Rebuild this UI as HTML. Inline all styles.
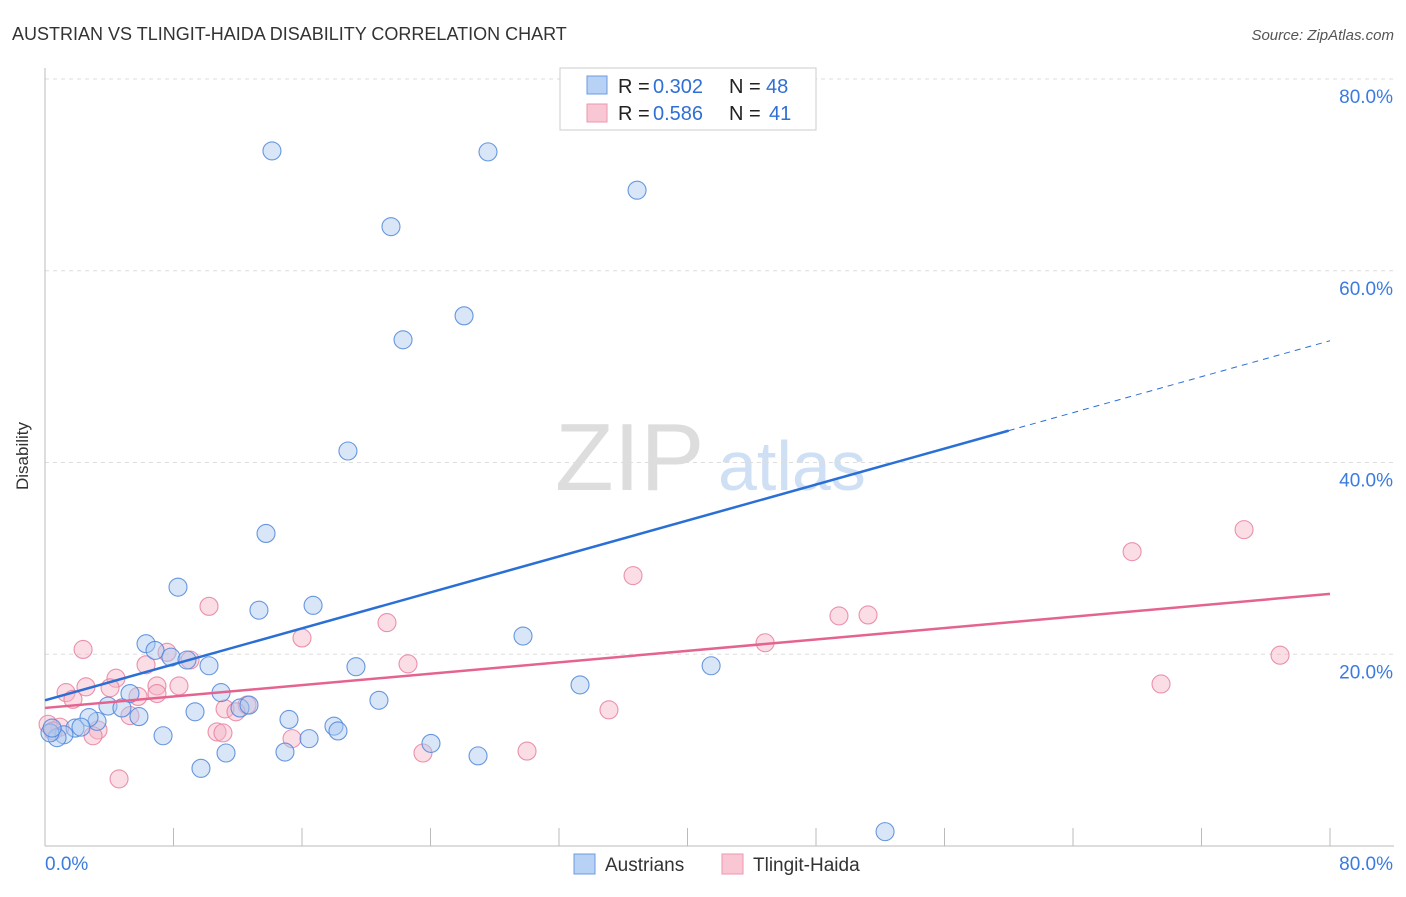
<!DOCTYPE html>
<html><head><meta charset="utf-8"><style>
body{margin:0;background:#fff;font-family:"Liberation Sans",sans-serif}
svg text{font-family:"Liberation Sans",sans-serif}
</style></head><body>
<svg id="c" width="1406" height="892">
<text x="12" y="40" font-size="18" fill="#333">AUSTRIAN VS TLINGIT-HAIDA DISABILITY CORRELATION CHART</text>
<text x="1394" y="40" font-size="15" fill="#555" font-style="italic" text-anchor="end">Source: ZipAtlas.com</text>
<text x="28" y="456" font-size="17" fill="#333" text-anchor="middle" transform="rotate(-90 28 456)">Disability</text>
<g><text x="555" y="490" font-size="96" fill="#ddd" font-family="Liberation Serif,serif">ZIP</text><text x="718" y="490" font-size="70" fill="#cfe0f5">atlas</text></g>
<g id="grid"></g><g id="pts"></g><g id="lines"></g>
<g>
<rect x="560" y="68" width="256" height="62" fill="#fff" stroke="#ccc"/>
<rect x="587" y="76" width="20" height="18" fill="#b8d2f5" stroke="#6b9be0"/>
<rect x="587" y="104" width="20" height="18" fill="#f9c6d4" stroke="#eb97b0"/>
<text x="618" y="93" font-size="20" fill="#222">R =</text><text x="653" y="93" font-size="20" fill="#2f6fd6">0.302</text>
<text x="729" y="93" font-size="20" fill="#222">N =</text><text x="766" y="93" font-size="20" fill="#2f6fd6">48</text>
<text x="618" y="120" font-size="20" fill="#222">R =</text><text x="653" y="120" font-size="20" fill="#2f6fd6">0.586</text>
<text x="729" y="120" font-size="20" fill="#222">N =</text><text x="769" y="120" font-size="20" fill="#2f6fd6">41</text>
</g>
<g>
<rect x="574" y="854" width="21" height="20" fill="#b8d2f5" stroke="#6b9be0"/>
<text x="605" y="871" font-size="19" fill="#333">Austrians</text>
<rect x="722" y="854" width="21" height="20" fill="#f9c6d4" stroke="#eb97b0"/>
<text x="753" y="871" font-size="19" fill="#333">Tlingit-Haida</text>
</g>
</svg>
<script>
const blueX=[14.13,27.58,36.86,21.54,26.09,22.29,18.86,13.76,8.28,13.32,16.69,6.29,6.85,7.84,8.84,10.21,29.76,19.36,41.47,33.31,10.96,20.79,5.29,3.92,4.79,5.85,3.24,2.74,1.87,2.24,1.18,0.75,0.31,9.34,12.14,12.70,15.19,17.99,18.24,7.35,16.44,24.03,11.27,14.94,26.96,9.71,52.30,0.44];
const blueY=[72.5,72.4,68.4,64.6,55.3,52.8,41.2,32.6,27.0,24.6,25.1,21.1,20.4,19.7,19.4,18.8,21.9,18.7,18.8,16.8,16.0,15.2,15.9,14.6,14.4,13.5,13.0,13.4,12.3,12.4,11.6,11.3,11.8,14.0,14.4,14.7,13.2,12.5,12.0,11.5,11.2,10.7,9.7,9.8,9.4,8.1,1.5,12.3];
const pinkX=[2.37,10.21,36.61,67.68,74.65,49.43,51.24,44.83,76.89,69.48,16.00,21.29,22.60,6.29,9.03,7.60,8.34,4.42,2.55,1.31,1.74,4.05,6.97,6.97,5.29,11.21,12.58,35.11,10.71,11.08,3.30,2.99,15.38,30.01,23.53,4.61,0.93,0.19,0.50,5.79,11.89];
const pinkY=[20.5,25.0,28.2,30.7,33.0,24.0,24.1,21.2,19.9,16.9,21.7,23.3,19.0,18.9,19.4,20.2,16.7,17.5,16.6,16.0,15.3,16.5,16.7,15.9,13.6,14.3,14.7,14.2,11.9,11.8,12.1,11.5,11.2,9.9,9.7,7.0,12.4,12.7,12.0,15.6,14.0];
const blueTrend=[15.2,52.7], pinkTrend=[14.4,26.3];
const yTicks=[20,40,60,80], xTickVals=[0,8,16,24,32,40,48,56,64,72,80];
const NS="http://www.w3.org/2000/svg";
const sx=v=>45+v/80*1285, sy=v=>846-v*9.5875;
function mk(t,a,p){const e=document.createElementNS(NS,t);for(const k in a)e.setAttribute(k,a[k]);p.appendChild(e);return e;}
const g=document.getElementById('grid');
yTicks.forEach(t=>{
 const l=mk('line',{x1:45,x2:1394,y1:sy(t),y2:sy(t),stroke:'#ddd','stroke-dasharray':'4,4'},g);
 
 
 const tx=mk('text',{x:1393,y:sy(t)+24,'font-size':19,fill:'#3b7be0','text-anchor':'end'},g);
 tx.textContent=t.toFixed(1)+'%';
 
 
});
const ax=mk('line',{x1:45,x2:45,y1:68,y2:846,stroke:'#bbb'},g);


const bx=mk('line',{x1:45,x2:1394,y1:846,y2:846,stroke:'#bbb'},g);


xTickVals.forEach(t=>{
 const l=mk('line',{x1:sx(t),x2:sx(t),y1:828,y2:846,stroke:'#bbb'},g);
 
 
});
[[0,45,'start'],[80,1393,'end']].forEach(([v,x,a])=>{
 const t=mk('text',{x:x,y:870,'font-size':19,fill:'#3b7be0','text-anchor':a},g);
 t.textContent=v.toFixed(1)+'%';
 
 
});
const p=document.getElementById('pts');
function pts(X,Y,fill,stroke,name){X.forEach((x,i)=>{
 const c=mk('circle',{cx:sx(x),cy:sy(Y[i]),r:9,fill:fill,'fill-opacity':0.45,stroke:stroke,'stroke-width':1.1,'stroke-opacity':0.85},p);
 
 
});}
pts(pinkX,pinkY,'#f5b3c6','#e8809f','tlingit-haida-point');
pts(blueX,blueY,'#a9c8f0','#4f86da','austrian-point');
const L=document.getElementById('lines');
const bAt=x=>blueTrend[0]+(blueTrend[1]-blueTrend[0])*x/80;
const l1=mk('line',{x1:sx(0),y1:sy(bAt(0)),x2:sx(60),y2:sy(bAt(60)),stroke:'#2a6fd6','stroke-width':2.5},L);


const l2=mk('line',{x1:sx(60),y1:sy(bAt(60)),x2:sx(80),y2:sy(bAt(80)),stroke:'#2a6fd6','stroke-width':1,'stroke-dasharray':'6,5'},L);


const l3=mk('line',{x1:sx(0),y1:sy(pinkTrend[0]),x2:sx(80),y2:sy(pinkTrend[1]),stroke:'#e5648f','stroke-width':2.5},L);


</script>
</body></html>
